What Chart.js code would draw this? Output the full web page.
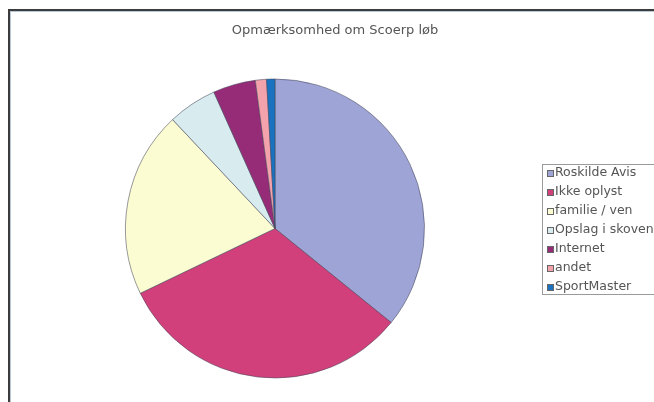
<!DOCTYPE html>
<html>
<head>
<meta charset="utf-8">
<script src="https://cdn.jsdelivr.net/npm/chart.js@4/dist/chart.umd.min.js"></script>
<style>
  html, body { margin: 0; padding: 0; background: #fff; overflow: hidden; }
  #frame {
    position: absolute; left: 8px; top: 9px; width: 700px; height: 450px;
    border-left: 2px solid #3c3c3c; border-top: 2px solid #3c3c3c;
    box-shadow: inset 1px 1px 0 #b9c8d6;
  }
  #wrap { position: absolute; left: 0; top: 0; width: 654px; height: 402px; }
</style>
</head>
<body>
<div id="frame"></div>
<div id="wrap"><canvas id="c" width="654" height="402"></canvas></div>
<script>
// data (percent of answers)
var title = "Opmærksomhed om Scoerp løb";
var labels = ["Roskilde Avis", "Ikke oplyst", "familie / ven", "Opslag i skoven", "Internet", "andet", "SportMaster"];
var values = [35.8, 32.0, 20.1, 5.3, 4.6, 1.2, 0.9];
var colors = ["#9ea5d6", "#d2407c", "#fcfcd2", "#d8ecf0", "#962c78", "#f4a2ac", "#1a72c0"];

// title centred on the whole sheet + legend box on the right
var sheetDeco = {
  id: "sheetDeco",
  afterDraw: function (chart) {
    var ctx = chart.ctx;
    ctx.save();
    ctx.fillStyle = "#555";
    ctx.font = "13px 'DejaVu Sans', sans-serif";
    ctx.textAlign = "center";
    ctx.textBaseline = "middle";
    ctx.fillText(title, 335, 31);

    var x0 = 542, y0 = 164, w = 130, h = 130;
    ctx.strokeStyle = "#9a9a9a";
    ctx.lineWidth = 1;
    ctx.strokeRect(x0 + 0.5, y0 + 0.5, w, h);
    ctx.font = "12.5px 'DejaVu Sans', sans-serif";
    ctx.textAlign = "left";
    var ds = chart.data.datasets[0];
    chart.data.labels.forEach(function (lab, i) {
      var y = y0 + 9 + i * 19;
      ctx.fillStyle = ds.backgroundColor[i];
      ctx.fillRect(x0 + 5, y - 3, 6, 6);
      ctx.strokeStyle = "#666";
      ctx.strokeRect(x0 + 5.5, y - 2.5, 6, 6);
      ctx.fillStyle = "#555";
      ctx.fillText(lab, x0 + 13, y);
    });
    ctx.restore();
  }
};

new Chart(document.getElementById("c"), {
  type: "pie",
  data: {
    labels: labels,
    datasets: [{
      data: values,
      backgroundColor: colors,
      borderColor: "rgba(70,70,90,0.55)",
      borderWidth: 1
    }]
  },
  options: {
    responsive: false,
    animation: false,
    layout: { padding: { left: 125, right: 229, top: 78, bottom: 23 } },
    plugins: {
      legend: { display: false },
      tooltip: { enabled: false },
      title: { display: false }
    }
  },
  plugins: [sheetDeco]
});
</script>
</body>
</html>
